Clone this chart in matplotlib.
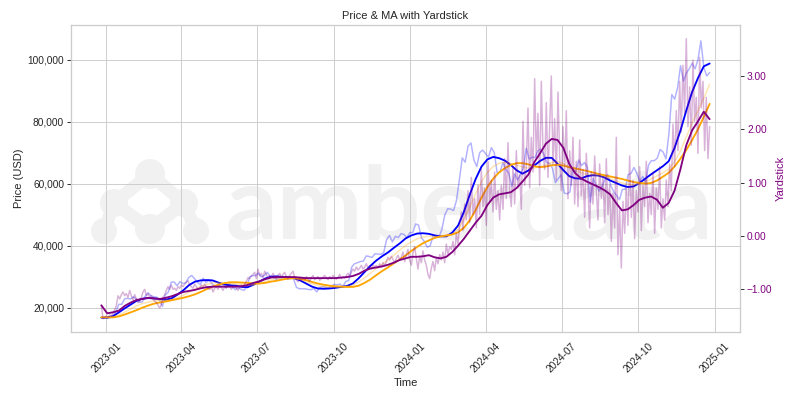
import matplotlib
matplotlib.use('Agg')
import matplotlib.pyplot as plt
import matplotlib.dates as mdates
import matplotlib.ticker as mticker
from matplotlib.patches import Ellipse
import numpy as np
import pandas as pd
import seaborn as sns

sns.set_theme(style='whitegrid')
plt.rcParams['font.family'] = ['Liberation Sans', 'DejaVu Sans']

START, END = '2022-12-26', '2024-12-26'

# Daily-ish BTC price (thousand USD), sampled every 3.5 days
price_k = [16.8,16.6,16.7,16.8,17.2,18.8,21.1,21.1,22.9,23.0,
22.8,23.5,22.8,21.8,21.8,23.6,24.8,23.9,23.5,23.4,
22.4,20.4,24.2,25.0,28.2,28.3,27.1,28.4,27.8,28.0,
29.7,30.4,29.4,28.2,27.5,29.5,28.1,29.0,27.7,26.9,
27.2,26.8,26.9,26.5,27.7,26.8,25.8,26.5,25.9,25.6,
26.8,30.0,30.3,30.4,31.1,29.9,30.4,31.4,30.1,29.8,
29.2,29.3,29.2,29.2,29.2,29.4,29.4,26.6,26.1,26.1,
26.1,25.9,25.8,26.2,25.1,26.5,26.8,26.6,26.3,27.0,
27.5,27.4,27.6,26.8,28.5,28.7,33.1,34.2,34.5,34.9,
35.0,36.7,36.5,36.2,37.4,37.3,37.2,37.7,41.9,43.3,
41.2,43.0,42.6,43.9,43.6,42.6,44.2,44.2,47.0,46.6,
42.5,41.3,39.5,40.0,43.3,43.1,42.7,45.3,49.9,51.9,
51.8,51.3,54.5,61.2,68.3,66.9,72.1,73.1,67.6,65.5,
70.0,70.8,69.7,68.5,71.6,70.0,63.4,63.8,66.8,64.5,
63.4,59.1,63.2,61.2,62.9,65.2,71.4,67.9,68.5,68.4,
70.6,71.1,69.6,66.8,66.5,64.9,60.3,61.6,62.9,57.0,
56.7,57.3,64.7,63.9,67.6,65.8,66.8,65.3,54.0,61.7,
59.3,57.6,59.0,61.2,62.9,59.4,57.5,56.2,54.8,58.1,
58.2,62.9,63.3,65.2,63.3,60.8,62.3,60.3,66.0,67.4,
67.4,68.2,71.0,70.2,68.0,76.0,88.7,87.2,91.0,98.0,
93.0,95.6,97.0,98.8,97.0,100.0,106.0,97.5,94.7,95.8]

# Moving averages (thousand USD), weekly samples
ma_short_k = [16.8,16.8,17.3,18.5,19.8,21.0,22.2,22.9,23.1,23.0,
22.8,22.6,23.0,24.2,25.6,27.3,28.4,28.8,28.9,28.8,
28.1,27.5,27.2,27.1,26.7,26.6,27.4,28.4,29.4,30.0,
30.1,29.9,29.8,29.5,28.8,27.8,26.8,26.2,26.1,26.2,
26.4,26.7,27.0,27.8,29.5,31.5,33.5,35.2,36.6,37.8,
39.3,40.7,42.3,43.3,43.9,44.0,43.8,43.3,43.0,43.0,
44.2,46.5,51.0,56.5,61.5,65.5,67.8,68.6,68.2,67.4,
66.0,64.3,63.2,64.2,65.8,67.3,68.3,68.3,66.4,64.3,
62.4,61.7,61.6,62.4,62.7,62.6,62.0,61.0,60.2,59.4,
58.9,59.1,60.2,61.6,63.0,64.3,65.6,67.2,71.5,77.0,
83.5,89.5,94.0,97.8,98.7]

ma_long_k = [16.9,16.9,16.9,17.2,17.8,18.5,19.2,20.0,20.7,21.3,
21.7,22.0,22.4,22.8,23.2,23.7,24.3,25.1,26.0,26.8,
27.4,27.9,28.2,28.2,28.1,28.0,27.8,27.8,28.0,28.4,
28.7,29.1,29.4,29.5,29.3,28.9,28.3,27.8,27.4,27.1,
26.9,26.8,26.7,26.7,27.1,28.0,29.1,30.5,31.8,33.0,
34.3,35.5,36.8,38.3,39.6,40.8,41.7,42.5,43.0,43.3,
43.6,44.3,45.8,48.2,51.5,55.5,58.9,61.6,63.6,65.0,
66.0,66.6,66.6,66.2,65.6,65.3,65.5,65.9,66.1,65.8,
65.3,64.9,64.5,64.1,63.6,63.1,62.7,62.3,61.9,61.5,
61.0,60.5,60.2,60.0,60.2,61.0,62.2,63.5,65.5,68.0,
70.8,74.0,77.5,81.5,85.7]

ma_mid_k = [16.9,16.9,17.0,17.6,18.6,19.6,20.6,21.3,21.8,22.2,
22.4,22.4,22.6,23.2,24.0,25.0,26.0,26.8,27.5,28.0,
28.1,28.0,27.8,27.6,27.4,27.2,27.3,27.8,28.4,29.0,
29.4,29.6,29.7,29.6,29.1,28.4,27.7,27.1,26.8,26.6,
26.6,26.7,26.9,27.3,28.3,29.6,31.1,32.6,34.0,35.4,
36.9,38.5,40.0,41.2,42.2,42.8,43.0,43.0,42.9,43.0,
43.6,45.3,48.5,52.5,56.8,60.6,63.6,65.5,66.6,66.8,
66.6,66.0,65.4,65.0,65.0,65.4,66.0,66.8,67.1,66.4,
65.2,64.2,63.5,63.0,62.8,62.6,62.2,61.6,60.9,60.2,
59.8,59.6,59.9,60.6,61.5,62.5,63.5,64.6,67.0,70.5,
75.0,79.5,83.5,87.5,92.0]

yard_ma = [-1.30,-1.45,-1.43,-1.40,-1.31,-1.25,-1.20,-1.18,-1.16,-1.17,
-1.18,-1.16,-1.13,-1.09,-1.05,-1.03,-1.01,-0.98,-0.96,-0.95,
-0.95,-0.95,-0.95,-0.95,-0.94,-0.92,-0.88,-0.85,-0.81,-0.78,
-0.77,-0.77,-0.77,-0.77,-0.78,-0.79,-0.79,-0.79,-0.79,-0.79,
-0.79,-0.78,-0.77,-0.75,-0.71,-0.65,-0.61,-0.59,-0.57,-0.54,
-0.50,-0.45,-0.42,-0.39,-0.39,-0.38,-0.36,-0.40,-0.42,-0.39,
-0.30,-0.18,-0.05,0.10,0.25,0.38,0.58,0.72,0.78,0.80,
0.82,0.90,1.02,1.15,1.38,1.55,1.73,1.82,1.80,1.65,
1.35,1.18,1.08,1.02,0.97,0.92,0.86,0.78,0.62,0.48,
0.50,0.58,0.68,0.72,0.74,0.68,0.53,0.62,0.85,1.25,
1.70,1.98,2.15,2.33,2.19]

# Raw yardstick, every 2 days
yard_raw = [
-1.30,-1.55,-1.52,-1.50,-1.53,-1.48,-1.50,-1.45,-1.38,-1.30,-1.12,-1.18,-1.10,-1.05,-1.12,
-1.08,-1.15,-1.02,-1.12,-1.20,-1.10,-1.18,-1.25,-1.22,-1.15,-1.05,-1.00,-1.12,-1.08,-1.15,
-1.12,-1.18,-1.22,-1.25,-1.30,-1.35,-1.28,-1.15,-1.10,-1.02,-0.95,-1.00,-0.92,-1.00,-0.98,
-1.02,-0.95,-0.98,-0.92,-0.95,-0.90,-0.86,-0.84,-0.92,-0.95,-0.98,-0.90,-0.95,-1.00,-0.97,
-0.92,-0.96,-0.90,-0.95,-0.98,-1.00,-0.95,-1.05,-0.98,-0.95,-1.00,-0.93,-0.97,-1.02,-0.95,
-0.98,-0.92,-0.95,-1.00,-0.96,-0.94,-0.98,-1.02,-0.95,-0.92,-0.96,-0.90,-0.85,-0.78,-0.80,
-0.75,-0.72,-0.68,-0.80,-0.62,-0.75,-0.70,-0.78,-0.66,-0.72,-0.80,-0.74,-0.77,-0.70,-0.76,
-0.80,-0.74,-0.70,-0.78,-0.72,-0.68,-0.76,-0.80,-0.74,-0.70,-0.66,-0.78,-0.82,-0.86,-0.80,
-0.84,-0.78,-0.82,-0.76,-0.80,-0.85,-0.78,-0.74,-0.82,-0.79,-0.76,-0.83,-0.80,-0.77,-0.74,
-0.78,-0.82,-0.76,-0.80,-0.74,-0.77,-0.81,-0.78,-0.72,-0.80,-0.76,-0.79,-0.74,-0.70,-0.76,
-0.68,-0.62,-0.66,-0.58,-0.64,-0.60,-0.55,-0.62,-0.58,-0.52,-0.60,-0.56,-0.62,-0.54,-0.58,
-0.55,-0.60,-0.52,-0.58,-0.50,-0.56,-0.48,-0.40,-0.45,-0.38,-0.44,-0.50,-0.42,-0.36,-0.44,
-0.40,-0.30,-0.48,-0.35,-0.25,-0.45,-0.55,-0.32,-0.20,-0.42,-0.62,-0.38,-0.50,-0.28,-0.45,
-0.55,-0.72,-0.80,-0.60,-0.48,-0.65,-0.40,-0.52,-0.35,-0.45,-0.30,-0.50,-0.15,-0.35,-0.20,
-0.25,-0.10,-0.35,0.05,-0.15,0.20,0.45,0.10,0.60,0.30,0.85,0.25,1.10,0.40,0.70,
0.15,0.95,0.40,1.25,0.55,0.90,0.20,1.40,0.65,1.05,0.45,1.20,0.50,0.85,0.30,
0.95,0.50,1.45,0.70,1.75,0.85,0.55,1.30,0.60,1.60,0.90,1.15,0.50,2.15,0.95,
1.30,2.40,0.90,1.85,1.20,2.95,1.45,2.30,0.95,2.90,1.60,1.25,2.50,1.10,2.05,
3.00,1.35,2.20,1.05,2.70,1.50,0.85,2.05,1.20,2.35,0.70,1.60,0.95,1.85,0.60,
1.40,0.55,1.80,0.75,1.25,0.35,1.55,0.90,0.15,1.20,0.60,1.50,0.85,0.30,1.35,
0.70,1.10,0.25,1.45,0.40,0.95,-0.10,0.80,0.15,1.85,-0.35,0.50,-0.60,0.65,0.05,
0.90,0.20,1.50,0.35,1.05,-0.05,0.85,0.45,1.30,0.10,0.95,0.55,1.40,0.25,0.80,
0.40,1.20,0.05,0.90,0.50,1.30,0.15,0.70,0.30,1.05,0.55,1.35,0.85,2.10,1.30,
2.35,1.60,2.90,1.95,3.20,2.30,3.70,2.05,2.80,1.70,3.30,2.15,2.60,1.55,3.35,
2.40,2.90,1.60,2.60,1.45,2.05]

price_dates = pd.date_range(START, END, periods=len(price_k))
ma_dates = pd.date_range(START, END, periods=len(ma_short_k))
yard_dates = pd.date_range(START, END, periods=len(yard_raw))

DPI = 200 / 3
fig, ax1 = plt.subplots(figsize=(12, 6), dpi=DPI)
fig.subplots_adjust(left=71/800, right=740/800, bottom=68/400, top=375/400)

# --- watermark (behind grid) ---
AXW, AXH = 669.0, 307.0
def ax_xy(px, py):
    return (px - 71) / AXW, (332 - py) / AXH
WM = '#f1f1f1'
logo_c = [(150, 174, 15), (114, 203, 14), (184, 203, 14), (104, 231, 13), (150, 229, 15), (196, 231, 13)]
links = [(0, 1), (0, 2), (1, 4), (2, 4), (1, 3), (2, 5)]
for a, b in links:
    xa, ya = ax_xy(*logo_c[a][:2]); xb, yb = ax_xy(*logo_c[b][:2])
    ax1.plot([xa, xb], [ya, yb], transform=ax1.transAxes, color=WM, lw=14,
             solid_capstyle='round', zorder=0.1)
for (px, py, r) in logo_c:
    cx, cy = ax_xy(px, py)
    ax1.add_patch(Ellipse((cx, cy), 2*r/AXW, 2*r/AXH, transform=ax1.transAxes,
                          color=WM, zorder=0.1, lw=0))
tx, ty = ax_xy(225, 238)
wm = ax1.text(tx, ty, 'amberdata', transform=ax1.transAxes, fontsize=100, color=WM,
              family=['Lato', 'DejaVu Sans'], weight='bold', ha='left', va='baseline', zorder=0.1)
fig.canvas.draw()
w = wm.get_window_extent().width
wm.set_fontsize(100 * 487 / w)

# --- price & MAs ---
ax1.plot(price_dates, np.array(price_k) * 1000, color='blue', alpha=0.3, lw=1.6, zorder=2)
ax1.plot(ma_dates, np.array(ma_short_k) * 1000, color='blue', lw=2.0, zorder=3)
ax1.plot(ma_dates, np.array(ma_long_k) * 1000, color='orange', lw=2.0, zorder=3)
ax1.plot(ma_dates, np.array(ma_mid_k) * 1000, color='orange', alpha=0.3, lw=1.6, zorder=3)

ax1.set_xlim(pd.Timestamp('2022-11-19 12:00'), pd.Timestamp('2025-01-31 12:00'))
ax1.set_ylim(12170, 111120)
ax1.yaxis.set_major_locator(mticker.MultipleLocator(20000))
ax1.yaxis.set_major_formatter(mticker.StrMethodFormatter('{x:,.0f}'))
ax1.xaxis.set_major_locator(mdates.MonthLocator(bymonth=[1, 4, 7, 10]))
ax1.xaxis.set_major_formatter(mdates.DateFormatter('%Y-%m'))
plt.setp(ax1.get_xticklabels(), rotation=45)
ax1.tick_params(axis='y', left=True, length=4, width=1, color='.15')
ax1.set_xlabel('Time')
ax1.set_ylabel('Price (USD)')
ax1.set_title('Price & MA with Yardstick')

# --- yardstick ---
ax2 = ax1.twinx()
ax2.plot(yard_dates, yard_raw, color='purple', alpha=0.3, lw=1.6)
ax2.plot(ma_dates, yard_ma, color='purple', lw=2.0)
ax2.set_ylim(-1.80, 3.956)
ax2.grid(False)
ax2.yaxis.set_major_locator(mticker.MultipleLocator(1.0))
ax2.yaxis.set_major_formatter(mticker.FuncFormatter(lambda v, p: f'{v:.2f}'.replace('-', '\u2212')))
ax2.tick_params(axis='y', right=True, length=4, width=1, color='.15', labelcolor='purple')
ax2.set_ylabel('Yardstick', color='purple')

fig.savefig('out.png', dpi=DPI)
